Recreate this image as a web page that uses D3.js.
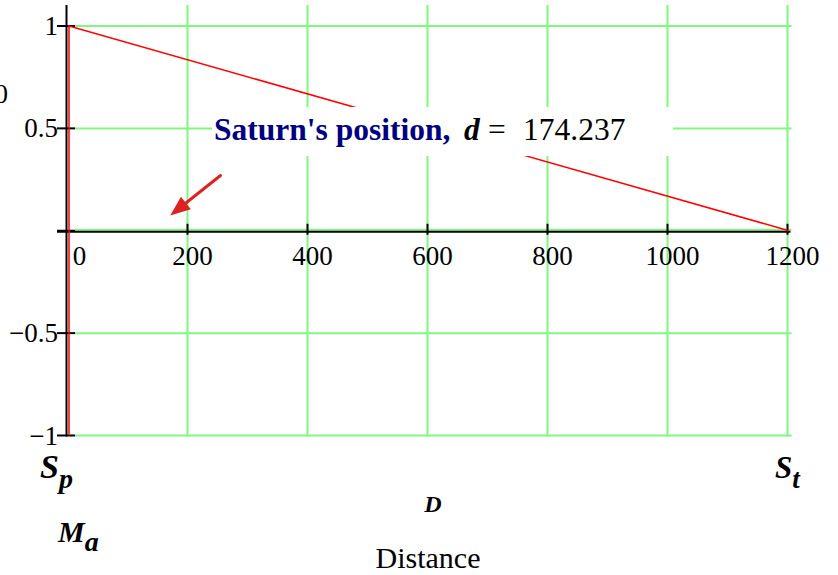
<!DOCTYPE html>
<html>
<head>
<meta charset="utf-8">
<script src="https://cdn.jsdelivr.net/npm/d3@7"></script>
<style>
  html, body { margin: 0; padding: 0; background: #fff; }
  svg { display: block; }
  text { font-family: "Liberation Serif", "Times New Roman", serif; }
</style>
</head>
<body>
<script>
// Trace: marker at D = 0 running from -1 to 1, then the falling line to D = 1200
const traceD = [0, 0, 1200];
const traceY = [-1, 1, 0];

const xTicks = [0, 200, 400, 600, 800, 1000, 1200];
const xTickLabels = ["0", "200", "400", "600", "800", "1000", "1200"];
const yTicks = [-1, -0.5, 0, 0.5, 1];
const yTickLabels = ["\u22121", "\u22120.5", "", "0.5", "1"];

// Saturn annotation
const saturnD = 174.237;
const arrowTail = [255, 0.27];
const arrowTip = [saturnD - 3, 0.075];

const W = 838, H = 575;
const svg = d3.select("body").append("svg").attr("width", W).attr("height", H);

const x = d3.scaleLinear().domain([0, 1200]).range([67.5, 787.5]);
const y = d3.scaleLinear().domain([-1, 1]).range([435.5, 26]);

const green = "#80f880";

// grid
const grid = svg.append("g");
grid.selectAll(".vg").data(xTicks.filter(d => d > 0)).join("line")
  .attr("x1", d => x(d)).attr("x2", d => x(d))
  .attr("y1", 5).attr("y2", y(-1) + 1)
  .attr("stroke", green).attr("stroke-width", 2);
grid.selectAll(".hg").data(yTicks).join("line")
  .attr("x1", 75).attr("x2", x(1200) + 4)
  .attr("y1", d => y(d) - (d === 0 ? 1 : 0)).attr("y2", d => y(d) - (d === 0 ? 1 : 0))
  .attr("stroke", green).attr("stroke-width", 2);

// axes
const axes = svg.append("g").attr("stroke", "#000");
axes.append("line").attr("x1", 66.5).attr("x2", 66.5).attr("y1", 5).attr("y2", y(-1) + 1)
  .attr("stroke-width", 2);
axes.append("line").attr("x1", 57).attr("x2", x(1200) + 3).attr("y1", y(0) + 1).attr("y2", y(0) + 1)
  .attr("stroke-width", 2);
axes.selectAll(".yt").data(yTicks).join("line")
  .attr("x1", 57).attr("x2", 75)
  .attr("y1", d => y(d)).attr("y2", d => y(d))
  .attr("stroke-width", 2);
axes.selectAll(".xt").data(xTicks.filter(d => d > 0)).join("line")
  .attr("x1", d => x(d)).attr("x2", d => x(d))
  .attr("y1", y(0) - 7).attr("y2", y(0) + 4)
  .attr("stroke-width", 2);

// trace
const line = d3.line().x(d => x(d[0]) + 1.5).y(d => y(d[1]));
svg.append("path")
  .attr("d", line(traceD.map((d, i) => [d, traceY[i]])))
  .attr("fill", "none").attr("stroke", "#ff0000").attr("stroke-width", 1.5);

// tick labels
svg.append("g").selectAll("text").data(yTicks).join("text")
  .attr("x", 58).attr("y", d => y(d) + 9)
  .attr("text-anchor", "end").attr("font-size", 27)
  .text((d, i) => yTickLabels[i]);
svg.append("g").selectAll("text").data(xTicks).join("text")
  .attr("x", (d, i) => x(d) + (i === 0 ? 12 : 5)).attr("y", y(0) + 34)
  .attr("text-anchor", "middle").attr("font-size", 27)
  .text((d, i) => xTickLabels[i]);

// label at the left edge, partly outside the drawing
svg.append("text").attr("x", 8).attr("y", 103).attr("text-anchor", "end")
  .attr("font-size", 27).text("0");

// annotation box and text
svg.append("rect").attr("x", 212).attr("y", 107).attr("width", 461).attr("height", 49)
  .attr("fill", "#fff");
const ann = svg.append("text").attr("y", 140).attr("font-size", 31.5);
ann.append("tspan").attr("x", 214).attr("font-weight", "bold").attr("fill", "#000080")
  .text("Saturn's position,");
ann.append("tspan").attr("x", 464).attr("font-weight", "bold").attr("font-style", "italic")
  .attr("fill", "#000").text("d");
ann.append("tspan").attr("x", 488).attr("fill", "#000").text("=");
ann.append("tspan").attr("x", 523).attr("fill", "#000").text(d3.format(".3f")(saturnD));

// arrow
const ax1 = x(arrowTail[0]), ay1 = y(arrowTail[1]);
const ax2 = x(arrowTip[0]), ay2 = y(arrowTip[1]);
const ang = Math.atan2(ay2 - ay1, ax2 - ax1);
const headLen = 20, headW = 8;
const bx = ax2 - headLen * Math.cos(ang), by = ay2 - headLen * Math.sin(ang);
svg.append("line").attr("x1", ax1).attr("y1", ay1).attr("x2", bx).attr("y2", by)
  .attr("stroke", "#dd2222").attr("stroke-width", 3).attr("stroke-linecap", "round");
svg.append("path")
  .attr("d", d3.line()([
    [ax2, ay2],
    [bx + headW * Math.sin(ang), by - headW * Math.cos(ang)],
    [bx - headW * Math.sin(ang), by + headW * Math.cos(ang)]
  ]) + "Z")
  .attr("fill", "#dd2222");

// axis names
function subLabel(px, py, main, sub, size, subSize, subDy) {
  const t = svg.append("text").attr("x", px).attr("y", py)
    .attr("font-weight", "bold").attr("font-style", "italic").attr("font-size", size);
  t.append("tspan").text(main);
  t.append("tspan").attr("font-size", subSize).attr("dy", subDy).text(sub);
}
subLabel(40, 478, "S", "p", 34, 28, 10);
subLabel(58, 542, "M", "a", 30, 28, 9);
subLabel(775, 478, "S", "t", 31, 27, 10);

svg.append("text").attr("x", 433).attr("y", 512).attr("text-anchor", "middle")
  .attr("font-weight", "bold").attr("font-style", "italic").attr("font-size", 24).text("D");
svg.append("text").attr("x", 428).attr("y", 568).attr("text-anchor", "middle")
  .attr("font-size", 30).text("Distance");
</script>
</body>
</html>
